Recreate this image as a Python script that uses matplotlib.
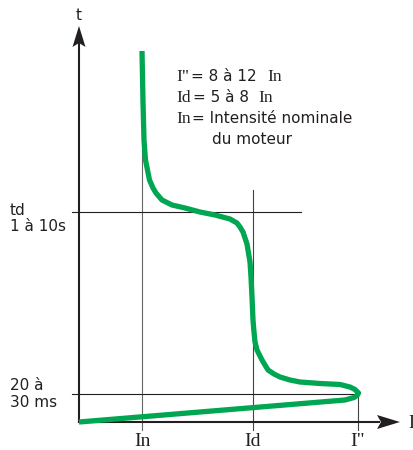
import matplotlib
matplotlib.use("Agg")
import matplotlib.pyplot as plt

# current / time points of the starting curve (chart units, origin at the axes corner)
curve_current = [63, 64, 65, 66.5, 70.5, 74, 77, 83, 93, 106, 121, 136, 151, 158, 161,
                 164, 166, 168, 169, 171, 172, 173, 174, 175, 176, 178, 183, 189, 195,
                 201, 211, 221, 241, 261, 271, 276, 279.5, 278, 275, 266, 0]
curve_time = [371, 320, 282, 262, 242, 234, 229, 222, 217, 214, 210, 207, 203, 199, 195,
              190, 184, 178, 172, 160, 145, 125, 102, 90, 80, 72, 62, 52, 48,
              45, 42, 40, 38.5, 37.5, 35, 32.5, 29, 26.5, 24.5, 22, 0]

tick_pos = [63, 174, 279]
tick_labels = ["In", "Id", 'I"']
td_level = 210
ms_level = 28

green = "#00a651"
ink = "#231f20"
sans = "DejaVu Sans"
serif = "Liberation Serif"

fig = plt.figure(figsize=(4.14, 4.5), dpi=100)
ax = fig.add_axes([0, 0, 1, 1])
ax.set_xlim(-79, 335)
ax.set_ylim(-28, 422)
ax.axis("off")

# thin guide lines
ax.plot([tick_pos[0], tick_pos[0]], [-8, 368], color="#666666", lw=0.8, zorder=1)
ax.plot([tick_pos[1], tick_pos[1]], [-8, 232], color="#444444", lw=0.8, zorder=1)
ax.plot([tick_pos[2], tick_pos[2]], [-8, ms_level], color="#444444", lw=0.8, zorder=1)
ax.plot([-7, 222], [td_level, td_level], color=ink, lw=0.8, zorder=1)
ax.plot([-7, tick_pos[2]], [ms_level, ms_level], color=ink, lw=0.8, zorder=1)

# axes with arrow heads
ax.plot([0, 0], [0, 380], color=ink, lw=1.5, zorder=2)
ax.plot([0, 300], [0, 0], color=ink, lw=1.5, zorder=2)
ax.fill([0, -6.5, 0, 6.5], [396, 375, 379, 375], color=ink, lw=0, zorder=3)
ax.fill([321, 298, 302, 298], [0, 7, 0, -7], color=ink, lw=0, zorder=3)

# the curve
ax.plot(curve_current, curve_time, color=green, lw=3.8, solid_joinstyle="round",
        solid_capstyle="butt", zorder=4)

# axis labels
ax.text(0, 402, "t", fontsize=11, family=sans, color=ink, ha="center", va="baseline")
ax.text(329, -6, "I", fontsize=13, family=serif, color=ink, ha="left", va="baseline")
for pos, lab in zip(tick_pos, tick_labels):
    ax.text(pos, -24.5, lab, fontsize=14, family=serif, color=ink, ha="center", va="baseline")

ax.text(-69, 207, "td", fontsize=11, family=sans, color=ink, ha="left", va="baseline")
ax.text(-69, 191, "1 à 10s", fontsize=11, family=sans, color=ink, ha="left", va="baseline")
ax.text(-69, 31.5, "20 à", fontsize=11, family=sans, color=ink, ha="left", va="baseline")
ax.text(-69, 15, "30 ms", fontsize=11, family=sans, color=ink, ha="left", va="baseline")

# legend text: serif symbols, sans words
ax.text(97, 341, 'I"', fontsize=12.5, family=serif, color=ink, ha="left", va="baseline")
ax.text(112, 341, "= 8 à 12", fontsize=11, family=sans, color=ink, ha="left", va="baseline")
ax.text(188, 341, "In", fontsize=12.5, family=serif, color=ink, ha="left", va="baseline")
ax.text(97, 320, "Id", fontsize=12.5, family=serif, color=ink, ha="left", va="baseline")
ax.text(114, 320, "= 5 à 8", fontsize=11, family=sans, color=ink, ha="left", va="baseline")
ax.text(179, 320, "In", fontsize=12.5, family=serif, color=ink, ha="left", va="baseline")
ax.text(97, 299, "In", fontsize=12.5, family=serif, color=ink, ha="left", va="baseline")
ax.text(113, 299, "= Intensité nominale", fontsize=11, family=sans, color=ink,
        ha="left", va="baseline")
ax.text(133, 278, "du moteur", fontsize=11, family=sans, color=ink, ha="left", va="baseline")

fig.savefig("out.png", dpi=100)
